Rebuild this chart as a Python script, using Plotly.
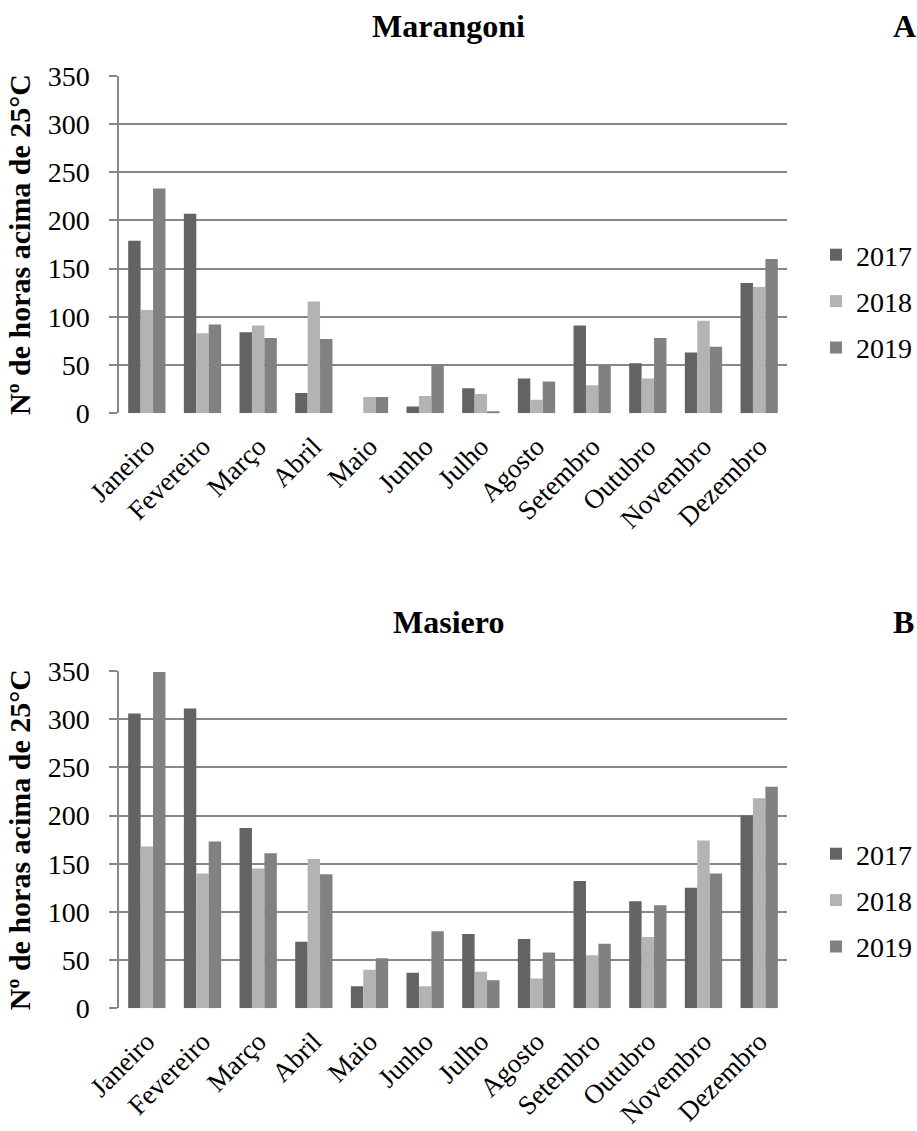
import plotly.graph_objects as go

months = ["Janeiro", "Fevereiro", "Março", "Abril", "Maio", "Junho", "Julho",
          "Agosto", "Setembro", "Outubro", "Novembro", "Dezembro"]
years = ["2017", "2018", "2019"]
colors = ["#636363", "#b3b3b3", "#818181"]

marangoni_2017 = [179, 207, 84, 21, 0, 7, 26, 36, 91, 52, 63, 135]
marangoni_2018 = [107, 83, 91, 116, 17, 18, 20, 14, 29, 36, 96, 131]
marangoni_2019 = [233, 92, 78, 77, 17, 51, 2, 33, 50, 78, 69, 160]

masiero_2017 = [306, 311, 187, 69, 23, 37, 77, 72, 132, 111, 125, 200]
masiero_2018 = [168, 140, 145, 155, 40, 23, 38, 31, 55, 74, 174, 218]
masiero_2019 = [349, 173, 161, 139, 52, 80, 29, 58, 67, 107, 140, 230]

y_ticks = [0, 50, 100, 150, 200, 250, 300, 350]

serif = "Liberation Serif, Times New Roman, serif"
grid = "#878787"

fig = go.Figure()

panels = [
    ("x", "y", "legend", [marangoni_2017, marangoni_2018, marangoni_2019]),
    ("x2", "y2", "legend2", [masiero_2017, masiero_2018, masiero_2019]),
]
for xa, ya, lg, series in panels:
    for yr, col, vals in zip(years, colors, series):
        fig.add_trace(go.Bar(
            x=months, y=vals, name=yr, xaxis=xa, yaxis=ya,
            marker=dict(color=col, line=dict(width=0)),
            legend=lg, legendgroup=lg + yr,
        ))

W, H = 917, 1131
xdom = [119 / W, 787 / W]
ydom_top = [1 - 413.3 / H, 1 - 75.7 / H]
ydom_bot = [1 - 1008.3 / H, 1 - 671 / H]

axis_common_x = dict(
    domain=xdom, tickangle=-45, showgrid=False, showline=False, automargin=False,
    ticks="", ticklabelstandoff=11,
    tickfont=dict(family=serif, size=27, color="black"),
)
axis_common_y = dict(
    range=[0, 350], tickvals=y_ticks, showgrid=True, gridcolor=grid, gridwidth=1.5,
    showline=True, linecolor=grid, linewidth=1.5, ticks="outside", ticklen=8,
    tickcolor=grid, tickwidth=1.5, zeroline=False, automargin=False,
    ticklabelstandoff=14,
    tickfont=dict(family=serif, size=28, color="black"),
    title=dict(text="<b>Nº de horas acima de 25°C</b>",
               font=dict(family=serif, size=30, color="black"), standoff=8),
)

legend_common = dict(
    xanchor="left", yanchor="top", font=dict(family=serif, size=28, color="black"),
    tracegroupgap=7, itemwidth=30, bgcolor="rgba(0,0,0,0)",
)

title_font = dict(family=serif, size=32, color="black")

fig.update_layout(
    width=W, height=H,
    margin=dict(l=0, r=0, t=0, b=0),
    paper_bgcolor="white", plot_bgcolor="white",
    barmode="group", bargap=0.33, bargroupgap=0,
    xaxis=dict(axis_common_x, anchor="y"),
    yaxis=dict(axis_common_y, domain=ydom_top, anchor="x"),
    xaxis2=dict(axis_common_x, anchor="y2"),
    yaxis2=dict(axis_common_y, domain=ydom_bot, anchor="x2"),
    legend=dict(legend_common, x=816 / W, y=1 - 230 / H),
    legend2=dict(legend_common, x=816 / W, y=1 - 829 / H),
    annotations=[
        dict(text="<b>Marangoni</b>", x=448 / W, y=1 - 26 / H, xref="paper", yref="paper",
             xanchor="center", yanchor="middle", showarrow=False, font=title_font),
        dict(text="<b>A</b>", x=904 / W, y=1 - 26 / H, xref="paper", yref="paper",
             xanchor="center", yanchor="middle", showarrow=False, font=title_font),
        dict(text="<b>Masiero</b>", x=448 / W, y=1 - 622 / H, xref="paper", yref="paper",
             xanchor="center", yanchor="middle", showarrow=False, font=title_font),
        dict(text="<b>B</b>", x=903 / W, y=1 - 622 / H, xref="paper", yref="paper",
             xanchor="center", yanchor="middle", showarrow=False, font=title_font),
    ],
)

fig.write_html(
    "out.html",
    config={"displayModeBar": False},
    post_script="document.body.style.margin='0';document.body.style.overflow='hidden';",
)
